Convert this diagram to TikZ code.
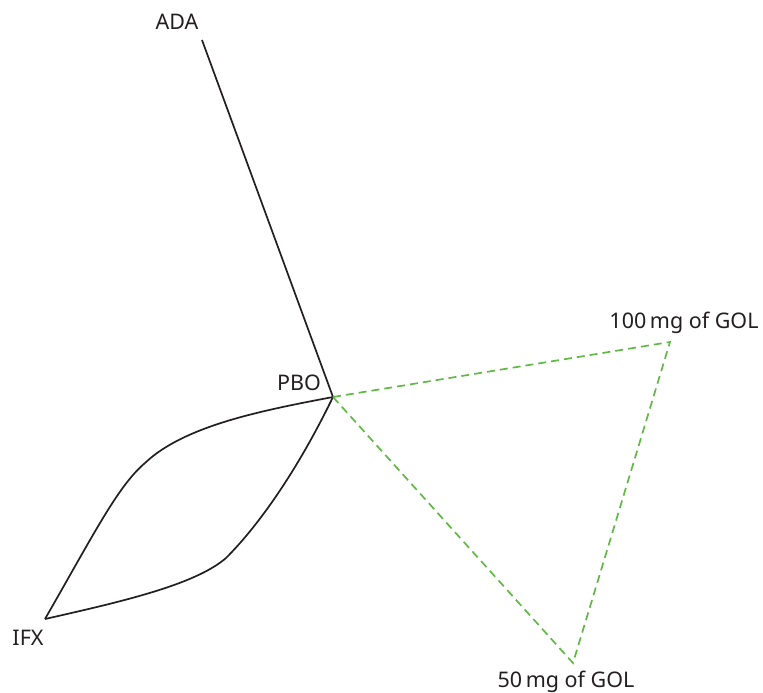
\documentclass[tikz,border=0pt]{standalone}
\usepackage{fontspec}
\setmainfont{Noto Sans}
\definecolor{golgreen}{RGB}{98,184,70}
\definecolor{txt}{RGB}{35,31,32}
\begin{document}
\begin{tikzpicture}[x=1pt,y=-1pt,
  lbl/.style={font=\fontsize{21.5}{24}\selectfont, text=txt, inner sep=0pt},
  solidline/.style={draw=txt, line width=1.7pt, line join=round},
  golline/.style={draw=golgreen, line width=1.7pt, dash pattern=on 8pt off 5pt}]
\useasboundingbox (0,0) rectangle (763,693);
% points
\coordinate (ada) at (202,40);
\coordinate (pbo) at (333,397);
\coordinate (ifx) at (45,619);
\coordinate (g100) at (670,342);
\coordinate (g50) at (573,663);
\coordinate (ub) at (145,463);
\coordinate (lb) at (226,558);
% labels
\node[lbl] (adal) at (177,22) {ADA};
\node[lbl] (pbol) at (299,383) {PBO};
\node[lbl] (ifxl) at (28,638) {IFX};
\node[lbl] (g100l) at (684,323) {100\,mg of GOL};
\node[lbl] (g50l) at (566,682) {50\,mg of GOL};
% black connectors
\draw[solidline] (ada) -- (pbo);
\draw[solidline] (ifx) .. controls (95,532) and (118,486) .. (ub)
  .. controls (185,425) and (265,410) .. (pbo);
\draw[solidline] (ifx) .. controls (120,602) and (195,585) .. (lb)
  .. controls (262,522) and (300,465) .. (pbo);
% green
\draw[golline] (pbo) -- (g100) -- (g50) -- (pbo);
\end{tikzpicture}
\end{document}
